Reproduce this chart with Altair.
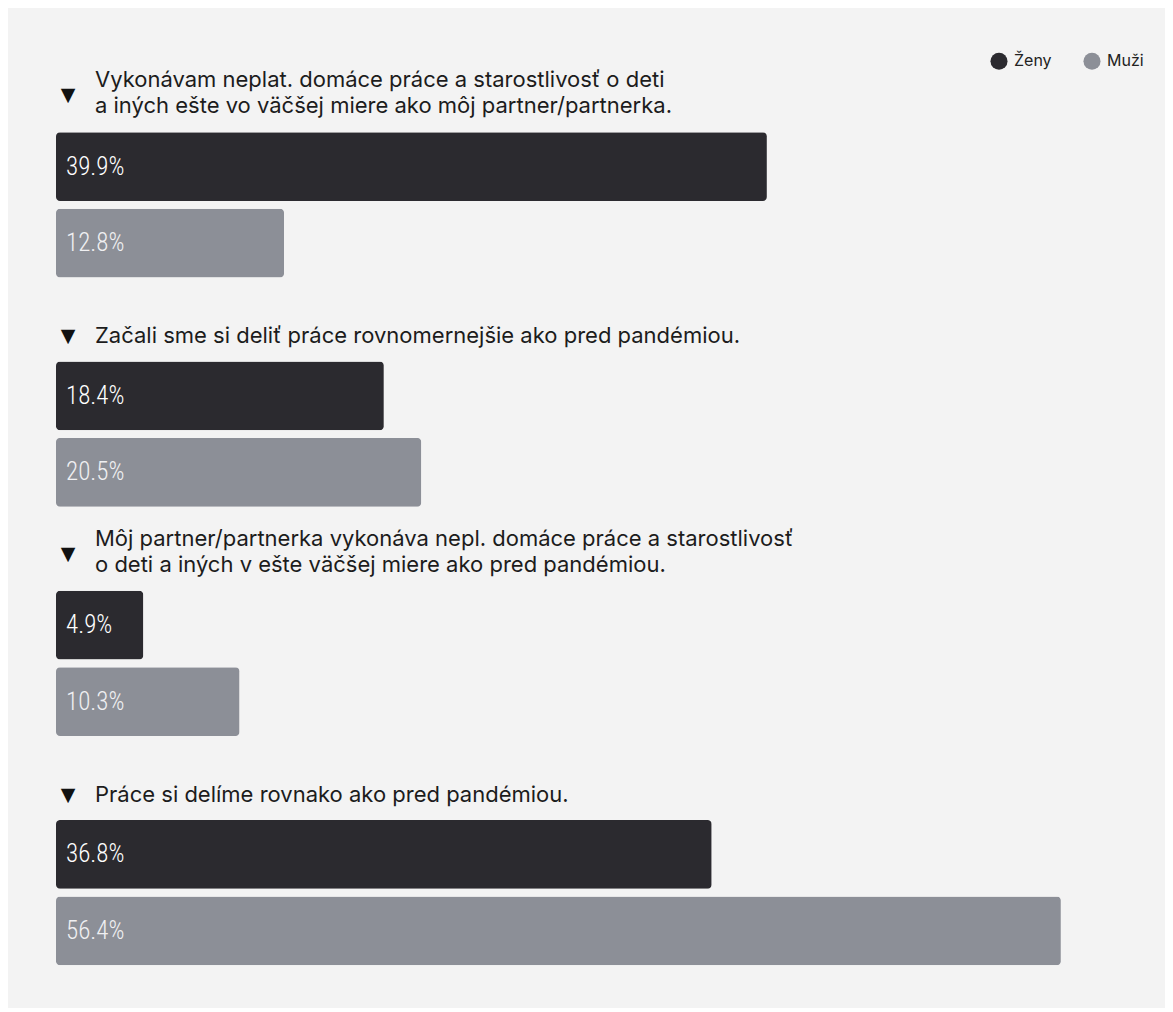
import altair as alt
import pandas as pd

# ---- data ----
questions = [
    ["Vykonávam neplat. domáce práce a starostlivosť o deti",
     "a iných ešte vo väčšej miere ako môj partner/partnerka."],
    ["Začali sme si deliť práce rovnomernejšie ako pred pandémiou."],
    ["Môj partner/partnerka vykonáva nepl. domáce práce a starostlivosť",
     "o deti a iných v ešte väčšej miere ako pred pandémiou."],
    ["Práce si delíme rovnako ako pred pandémiou."],
]
groups = ["Ženy", "Muži"]
zeny = [39.9, 18.4, 4.9, 36.8]
muzi = [12.8, 20.5, 10.3, 56.4]

DARK = "#2b2a2f"
GRAY = "#8c8f97"
LABEL_FONT = "'Roboto Condensed', 'Liberation Sans Narrow', 'DejaVu Sans Condensed', 'Arial Narrow', sans-serif"
TITLE_FONT = "Inter, 'Noto Sans', sans-serif"

rows_order = []
bar_records = []
title_records = []
for i, q in enumerate(questions):
    t_row = f"q{i}-title"
    rows_order.append(t_row)
    title_records.append({"row": t_row, "lines": q, "nlines": len(q), "tri": "▼"})
    for g, vals in zip(groups, [zeny, muzi]):
        r = f"q{i}-{g}"
        rows_order.append(r)
        bar_records.append({"row": r, "group": g, "value": vals[i],
                            "label": f"{vals[i]:.1f}%"})

bars_df = pd.DataFrame(bar_records)
titles_df = pd.DataFrame(title_records)

yscale = alt.Scale(domain=rows_order, paddingInner=0.1, paddingOuter=0.05)
xscale = alt.Scale(domain=[0, 60])
y_enc = alt.Y("row:N", scale=yscale, axis=None, sort=rows_order)

bars = alt.Chart(bars_df).mark_bar(cornerRadius=4).encode(
    x=alt.X("value:Q", scale=xscale, axis=None),
    y=y_enc,
    color=alt.Color(
        "group:N",
        scale=alt.Scale(domain=groups, range=[DARK, GRAY]),
        sort=groups,
        legend=alt.Legend(
            title=None, orient="none", direction="horizontal",
            legendX=934, legendY=0,
            symbolType="circle", symbolSize=290, symbolStrokeWidth=0,
            symbolOpacity=1,
            labelFont=TITLE_FONT, labelFontSize=16, labelColor="#222222",
            labelOffset=6, columnPadding=31,
        ),
    ),
)

labels = alt.Chart(bars_df).mark_text(
    align="left", baseline="middle", dx=10,
    font=LABEL_FONT, fontSize=25, fontWeight=300,
).encode(
    x=alt.datum(0, scale=xscale),
    y=y_enc,
    text="label:N",
    color=alt.Color("group:N", scale=alt.Scale(domain=groups, range=["#ffffff", "#f0f0f2"]), legend=None),
)

def title_layer(n, dy):
    return alt.Chart(titles_df).transform_filter(f"datum.nlines == {n}").mark_text(
        align="left", baseline="bottom", dx=39, dy=dy,
        font=TITLE_FONT, fontSize=22, lineHeight=26, color="#1c1c1c",
    ).encode(
        x=alt.datum(0, scale=xscale),
        y=y_enc,
        text="lines",
    )

def tri_layer(n, dy):
    return alt.Chart(titles_df).transform_filter(f"datum.nlines == {n}").mark_text(
        align="center", baseline="middle", dx=12, dy=dy,
        font="DejaVu Sans", fontSize=19, color="#111111",
    ).encode(
        x=alt.datum(0, scale=xscale),
        y=y_enc,
        text="tri:N",
    )

chart = alt.layer(
    bars, labels,
    title_layer(1, 29), title_layer(2, 2),
    tri_layer(1, 17), tri_layer(2, 5),
).resolve_scale(color="independent").properties(
    width=1069, height=917,
    background="#f3f3f3",
    padding={"left": 48, "top": 44, "right": 40, "bottom": 39},
    autosize=alt.AutoSizeParams(type="none"),
).configure_view(stroke=None)

chart.save("out.html", embed_options={"renderer": "svg", "actions": False})
